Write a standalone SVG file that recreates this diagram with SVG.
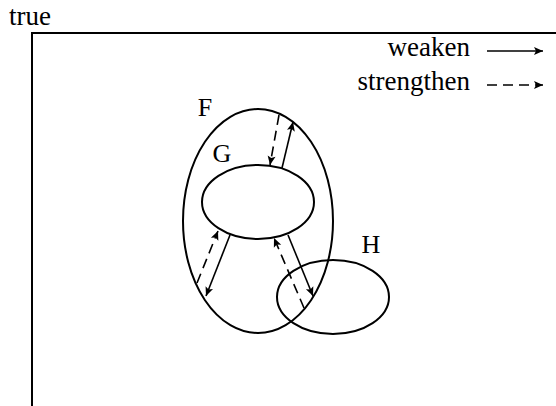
<svg xmlns="http://www.w3.org/2000/svg" width="556" height="406" viewBox="0 0 556 406">
  <style>
    text { font-family: "Liberation Serif", "Times New Roman", serif; font-size: 26px; fill: #000; }
    .word { font-size: 27px; }
    .set { fill: none; stroke: #000; stroke-width: 2; }
    .frame { fill: none; stroke: #000; stroke-width: 2; }
    .weaken { fill: none; stroke: #000; stroke-width: 1.6; marker-end: url(#tip); }
    .strengthen { fill: none; stroke: #000; stroke-width: 1.6; stroke-dasharray: 10 6; marker-end: url(#tip); }
  </style>
  <defs>
    <marker id="tip" viewBox="-10 -5 11 10" refX="0" refY="0" markerWidth="11" markerHeight="10" markerUnits="userSpaceOnUse" orient="auto">
      <path d="M0,0 L-9,-4 L-7,0 L-9,4 Z" fill="#000"/>
    </marker>
  </defs>

  <!-- universe frame -->
  <text class="word" x="9" y="25">true</text>
  <path class="frame" d="M32,406 V33 H556"/>

  <!-- legend -->
  <g id="legend">
    <text class="word" x="470" y="56" text-anchor="end">weaken</text>
    <line class="weaken" x1="487" y1="51" x2="543" y2="51"/>
    <text class="word" x="470" y="90" text-anchor="end">strengthen</text>
    <line class="strengthen" x1="487" y1="85" x2="543" y2="85"/>
  </g>

  <!-- sets -->
  <g id="F">
    <ellipse class="set" cx="258" cy="221" rx="75" ry="112"/>
    <text x="205" y="116" text-anchor="middle">F</text>
  </g>
  <g id="G">
    <ellipse class="set" cx="258" cy="202" rx="56" ry="37"/>
    <text x="222" y="162" text-anchor="middle">G</text>
  </g>
  <g id="H">
    <ellipse class="set" cx="333" cy="297" rx="56" ry="37"/>
    <text x="371" y="253" text-anchor="middle">H</text>
  </g>

  <!-- connectors -->
  <g id="connectors">
    <line class="strengthen" x1="279" y1="115" x2="270" y2="165"/>
    <line class="weaken" x1="282" y1="168" x2="293" y2="122"/>
    <line class="strengthen" x1="197" y1="283" x2="218" y2="231"/>
    <line class="weaken" x1="230" y1="235" x2="206" y2="296"/>
    <line class="strengthen" x1="304" y1="308" x2="274" y2="238"/>
    <line class="weaken" x1="288" y1="235" x2="313" y2="296"/>
  </g>
</svg>
